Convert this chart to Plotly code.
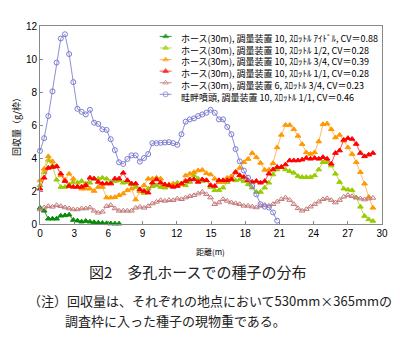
import plotly.graph_objects as go

# ---------------- data ----------------
FRAME_SPACING_M = 0.365   # collecting frames 530mm x 365mm placed end to end

idle = [0.98, 0.8, 0.32, 0.32, 0.32, 0.5, 0.52, 0.56, 0.24, 0.2, 0.14, 0.18, 0.14,
        0.1, 0.08, 0.06, 0.04, 0.03, 0.02, 0.02]

half = [2.34, 3.14, 3.88, 3.54, 2.68, 2.24, 2.24, 2.38, 2.54, 2.5, 2.6, 2.44, 2.5,
        2.74, 2.74, 2.8, 2.74, 2.54, 2.6, 2.64, 2.5, 2.54, 2.4, 2.24, 2.04, 1.88,
        2.14, 2.28, 2.34, 2.24, 2.2, 2.3, 2.4, 2.5, 2.44, 2.34, 2.54, 2.94, 2.74,
        2.6, 2.64, 2.24, 2.04, 2.04, 2.2, 2.54, 2.88, 2.64, 2.7, 2.6, 2.4, 2.2,
        1.94, 1.94, 2.2, 2.5, 3.0, 3.3, 3.44, 3.3, 3.2, 3.1, 2.9, 2.84, 2.84, 2.84,
        2.94, 3.3, 3.74, 3.74, 3.54, 3.04, 2.54, 2.14, 2.08, 2.04, 1.6, 1.04, 0.48,
        0.28, 0.18]

three_q = [2.64, 3.34, 4.1, 3.8, 3.48, 2.94, 2.68, 3.04, 2.74, 2.28, 2.14, 2.14,
           2.14, 2.0, 2.24, 2.24, 1.6, 1.6, 1.62, 1.74, 1.84, 2.04, 2.14, 1.48,
           1.98, 2.34, 2.74, 2.74, 2.8, 2.75, 2.34, 2.4, 2.44, 2.34, 2.4, 2.94,
           3.04, 3.14, 3.24, 3.28, 3.08, 3.0, 2.74, 2.54, 2.54, 2.8, 2.88, 3.1,
           3.4, 3.74, 3.94, 4.3, 4.04, 3.7, 3.28, 3.28, 3.68, 4.64, 5.4, 6.0, 6.0,
           5.74, 5.34, 4.84, 4.34, 4.24, 4.34, 5.0, 6.04, 6.08, 5.74, 5.24, 5.4,
           5.04, 4.64, 4.24, 3.74, 3.14, 2.44, 1.64, 0.98]

full = [2.14, 2.8, 3.4, 3.45, 3.5, 3.05, 2.6, 2.3, 2.25, 2.25, 2.25, 2.35, 2.8,
        2.75, 2.55, 2.45, 2.45, 2.45, 2.75, 2.75, 3.1, 2.65, 2.45, 2.45, 2.1, 2.0,
        1.9, 2.5, 2.7, 2.5, 2.4, 2.35, 2.25, 2.3, 2.45, 2.6, 2.7, 2.7, 2.55, 2.7,
        2.65, 2.35, 2.3, 2.65, 2.65, 2.65, 2.7, 3.15, 2.95, 2.85, 2.65, 2.55, 2.6,
        2.5, 2.6, 3.05, 3.3, 3.45, 3.45, 3.6, 3.85, 3.85, 3.85, 3.9, 4.0, 3.95,
        4.0, 3.95, 4.05, 3.95, 3.65, 4.3, 4.45, 5.1, 5.2, 5.15, 4.85, 4.3, 4.1,
        4.2, 4.3]

dev6 = [0.88, 1.0, 1.08, 1.04, 1.14, 1.08, 1.0, 0.94, 0.88, 0.88, 0.94, 0.94, 1.0,
        0.8, 0.68, 0.74, 1.08, 1.14, 0.94, 0.8, 0.8, 0.8, 0.8, 0.98, 1.04, 0.98,
        1.08, 1.24, 1.34, 1.44, 1.4, 1.44, 1.44, 1.54, 1.5, 1.6, 1.68, 1.74, 1.84,
        1.94, 1.8, 1.6, 1.2, 1.3, 1.5, 1.4, 1.3, 1.25, 1.2, 1.1, 1.1, 1.05, 1.0,
        1.1, 1.15, 1.1, 1.2, 1.35, 1.5, 1.6, 1.45, 1.2, 0.95, 0.8, 0.9, 1.05, 1.2,
        1.35, 1.5, 1.55, 1.45, 1.3, 1.45, 1.65, 1.75, 1.68, 1.6, 1.54, 1.48, 1.54,
        1.58]

levee = [4.43, 5.2, 6.54, 8.04, 9.78, 11.24, 11.5, 10.3, 8.6, 6.98, 6.8, 6.64,
         6.92, 6.14, 6.06, 5.74, 5.7, 5.14, 4.48, 3.74, 3.64, 3.94, 4.16, 4.16,
         3.78, 4.0, 4.24, 4.9, 4.9, 4.92, 4.94, 4.96, 4.9, 4.8, 5.44, 6.2, 6.34,
         6.4, 6.54, 6.64, 6.74, 6.92, 6.74, 6.34, 6.34, 5.88, 5.44, 4.54, 3.8,
         3.24, 2.8, 2.3, 1.8, 1.2, 1.05, 1.0, 0.7, 0.2]

names = [
    "ホース(30m), 調量装置 10, ｽﾛｯﾄﾙ ｱｲﾄﾞﾙ, CV＝0.88",
    "ホース(30m), 調量装置 10, ｽﾛｯﾄﾙ 1/2, CV＝0.28",
    "ホース(30m), 調量装置 10, ｽﾛｯﾄﾙ 3/4, CV＝0.39",
    "ホース(30m), 調量装置 10, ｽﾛｯﾄﾙ 1/1, CV＝0.28",
    "ホース(30m), 調量装置 6, ｽﾛｯﾄﾙ 3/4, CV＝0.23",
    "畦畔噴頭, 調量装置 10, ｽﾛｯﾄﾙ 1/1, CV＝0.46",
]
series = [idle, half, three_q, full, dev6, levee]

x_ticks = [0, 3, 6, 9, 12, 15, 18, 21, 24, 27, 30]
y_ticks = [0, 2, 4, 6, 8, 10, 12]

# ---------------- styles ----------------
colors = ["#0a8a0a", "#99cc00", "#ff9900", "#ff0000", "#c47a7a", "#7b7bd1"]
line_colors = ["#2e9a2e", "#b8dc50", "#ffbb66", "#ff5050", "#cf9494", "#8f8fd8"]
symbols = ["triangle-up", "triangle-up", "triangle-up", "triangle-up",
           "triangle-up-open", "circle-open"]
msizes = [5, 5, 5, 5, 5, 5]

JP = "Noto Sans CJK JP"
LEG_FONT = 9

fig = go.Figure()
for ys, nm, c, lc, sym, ms in zip(series, names, colors, line_colors, symbols, msizes):
    xs = [round(i * FRAME_SPACING_M, 3) for i in range(len(ys))]
    fig.add_trace(go.Scatter(
        x=xs, y=ys, name=nm, mode="lines+markers",
        line=dict(color=lc, width=1),
        marker=dict(symbol=sym, size=ms, color=c, line=dict(color=c, width=1)),
        showlegend=False, cliponaxis=False,
    ))

# ---------------- compact legend (glyphs on an overlay axis in window pixels) ----------------
row0, row_step = 34.5, LEG_FONT * 1.3
for k, (c, lc, sym) in enumerate(zip(colors, line_colors, symbols)):
    yy = row0 + k * row_step
    fig.add_trace(go.Scatter(
        x=[160, 166, 172], y=[yy, yy, yy], xaxis="x2", yaxis="y2",
        mode="lines+markers", line=dict(color=lc, width=1),
        marker=dict(symbol=sym, size=[0, 5, 0], color=c, line=dict(color=c, width=1)),
        showlegend=False, hoverinfo="skip", cliponaxis=False,
    ))
fig.add_annotation(x=179, y=row0 - row_step / 2 - 0.5, xref="x2", yref="y2",
                   text="<br>".join(names),
                   showarrow=False, xanchor="left", yanchor="top", align="left",
                   font=dict(family=JP, size=LEG_FONT, color="#000"))

# plot area in window pixels: x 40..383, y 24..224
def px(xp):
    return (xp - 40) / 343.0

def py(yp):
    return (224 - yp) / 200.0

fig.add_annotation(x=px(211), y=py(252), xref="paper", yref="paper", text="距離(m)",
                   showarrow=False, xanchor="center", yanchor="middle",
                   font=dict(family=JP, size=8, color="#000"))
fig.add_annotation(x=px(16), y=py(124), xref="paper", yref="paper", text="回収量（g/枠）",
                   showarrow=False, textangle=-90, xanchor="center", yanchor="middle",
                   font=dict(family=JP, size=9, color="#000"))
fig.add_annotation(x=px(198), y=py(272), xref="paper", yref="paper",
                   text="図2　多孔ホースでの種子の分布",
                   showarrow=False, xanchor="center", yanchor="middle",
                   font=dict(family=JP, size=15, color="#222"))
fig.add_annotation(x=px(26), y=py(301), xref="paper", yref="paper",
                   text="（注）回収量は、それぞれの地点において530mm×365mmの",
                   showarrow=False, xanchor="left", yanchor="middle",
                   font=dict(family=JP, size=13, color="#222"))
fig.add_annotation(x=px(63), y=py(321), xref="paper", yref="paper",
                   text="調査枠に入った種子の現物重である。",
                   showarrow=False, xanchor="left", yanchor="middle",
                   font=dict(family=JP, size=13, color="#222"))

# page body has an 8px margin, so the figure is laid out 8px smaller/shifted
fig.update_layout(
    width=392, height=348,
    margin=dict(l=32, r=17, t=16, b=132),
    paper_bgcolor="white", plot_bgcolor="white",
    showlegend=False,
    xaxis=dict(range=[0, 30], tickvals=x_ticks, showgrid=False, zeroline=False,
               showline=True, linecolor="#888", linewidth=1, mirror=True,
               ticks="inside", ticklen=3, tickcolor="#888",
               tickfont=dict(family="Liberation Sans", size=10, color="#000")),
    yaxis=dict(range=[0, 12], tickvals=y_ticks, showgrid=False, zeroline=False,
               showline=True, linecolor="#888", linewidth=1, mirror=True,
               ticks="inside", ticklen=3, tickcolor="#888",
               tickfont=dict(family="Liberation Sans", size=10, color="#000")),
    xaxis2=dict(range=[40, 383], overlaying="x", visible=False, domain=[0, 1]),
    yaxis2=dict(range=[224, 24], overlaying="y", visible=False, domain=[0, 1]),
)

fig.write_html("out.html")
